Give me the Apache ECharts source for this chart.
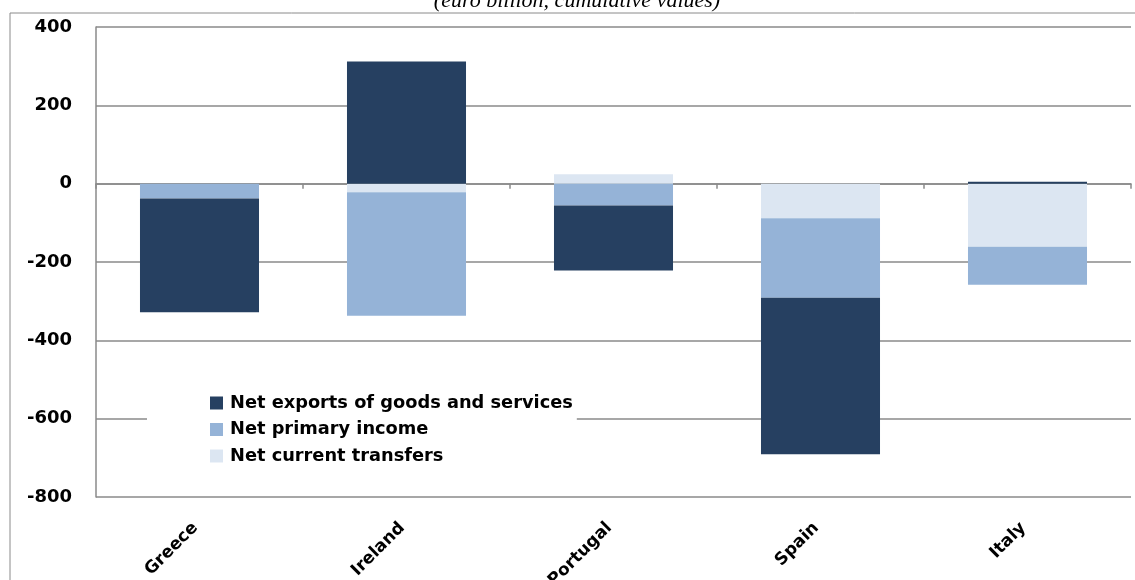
<!DOCTYPE html>
<html>
<head>
<meta charset="utf-8">
<script src="https://cdn.jsdelivr.net/npm/echarts@6/dist/echarts.min.js"></script>
<style>
html,body{margin:0;padding:0;background:#fff;}
#chart{width:1135px;height:580px;}
</style>
</head>
<body>
<div id="chart"></div>
<script>
const categories = ['Greece', 'Ireland', 'Portugal', 'Spain', 'Italy'];
const netExports = [-290, 312, -166, -400, 5];
const netPrimaryIncome = [-38, -315, -56, -203, -97];
const netCurrentTransfers = [0, -22, 24, -88, -161];
const seriesNames = ['Net exports of goods and services', 'Net primary income', 'Net current transfers'];
const titleText = '(euro billion, cumulative values)';

const chart = echarts.init(document.getElementById('chart'), null, {renderer: 'canvas'});
const labelFont = '"DejaVu Sans"';
const option = {
  animation: false,
  backgroundColor: '#fff',
  graphic: [
    {type: 'rect', shape: {x: 10, y: 13, width: 1200, height: 700}, style: {fill: 'none', stroke: '#8a8a8a', lineWidth: 1}, z: -10},
    {type: 'text', x: 577, y: -10, style: {text: titleText, font: 'italic 22px "Liberation Serif"', fill: '#000', align: 'center', verticalAlign: 'top'}}
  ],
  grid: {left: 96, right: 4, top: 27, bottom: 83, containLabel: false, outerBoundsMode: 'none'},
  legend: {
    orient: 'vertical',
    left: 147, top: 390,
    data: seriesNames,
    itemWidth: 13, itemHeight: 13, itemGap: 8.5,
    icon: 'rect',
    backgroundColor: '#fff',
    padding: [4, 4, 4, 63],
    textStyle: {fontFamily: labelFont, fontWeight: 'bold', fontSize: 17.8, lineHeight: 18, color: '#000', padding: [0, 0, 0, 2]}
  },
  xAxis: [
    {
      type: 'category', data: categories, position: 'bottom',
      axisLine: {show: false, onZero: false}, axisTick: {show: false},
      axisLabel: {rotate: 45, margin: 24, padding: [0, 6, 0, 0], fontFamily: labelFont, fontWeight: 'bold', fontSize: 17, color: '#000', interval: 0}
    },
    {
      type: 'category', data: categories, position: 'bottom',
      axisLine: {show: true, onZero: true, lineStyle: {color: '#8a8a8a', width: 1.5}},
      axisTick: {show: true, length: 5, lineStyle: {color: '#8a8a8a', width: 1.5}},
      axisLabel: {show: false}
    }
  ],
  yAxis: {
    type: 'value', min: -800, max: 400, interval: 200,
    axisLine: {show: true, lineStyle: {color: '#8a8a8a', width: 1.5}},
    axisTick: {show: false},
    splitLine: {lineStyle: {color: '#8a8a8a', width: 1.5}},
    axisLabel: {margin: 24, fontFamily: labelFont, fontWeight: 'bold', fontSize: 18, color: '#000'}
  },
  series: [
    {name: seriesNames[2], type: 'bar', stack: 'a', data: netCurrentTransfers, barWidth: '57.5%', itemStyle: {color: '#DCE6F2'}},
    {name: seriesNames[1], type: 'bar', stack: 'a', data: netPrimaryIncome, itemStyle: {color: '#95B3D7'}},
    {name: seriesNames[0], type: 'bar', stack: 'a', data: netExports, itemStyle: {color: '#264061'}}
  ]
};
chart.setOption(option);
</script>
</body>
</html>
